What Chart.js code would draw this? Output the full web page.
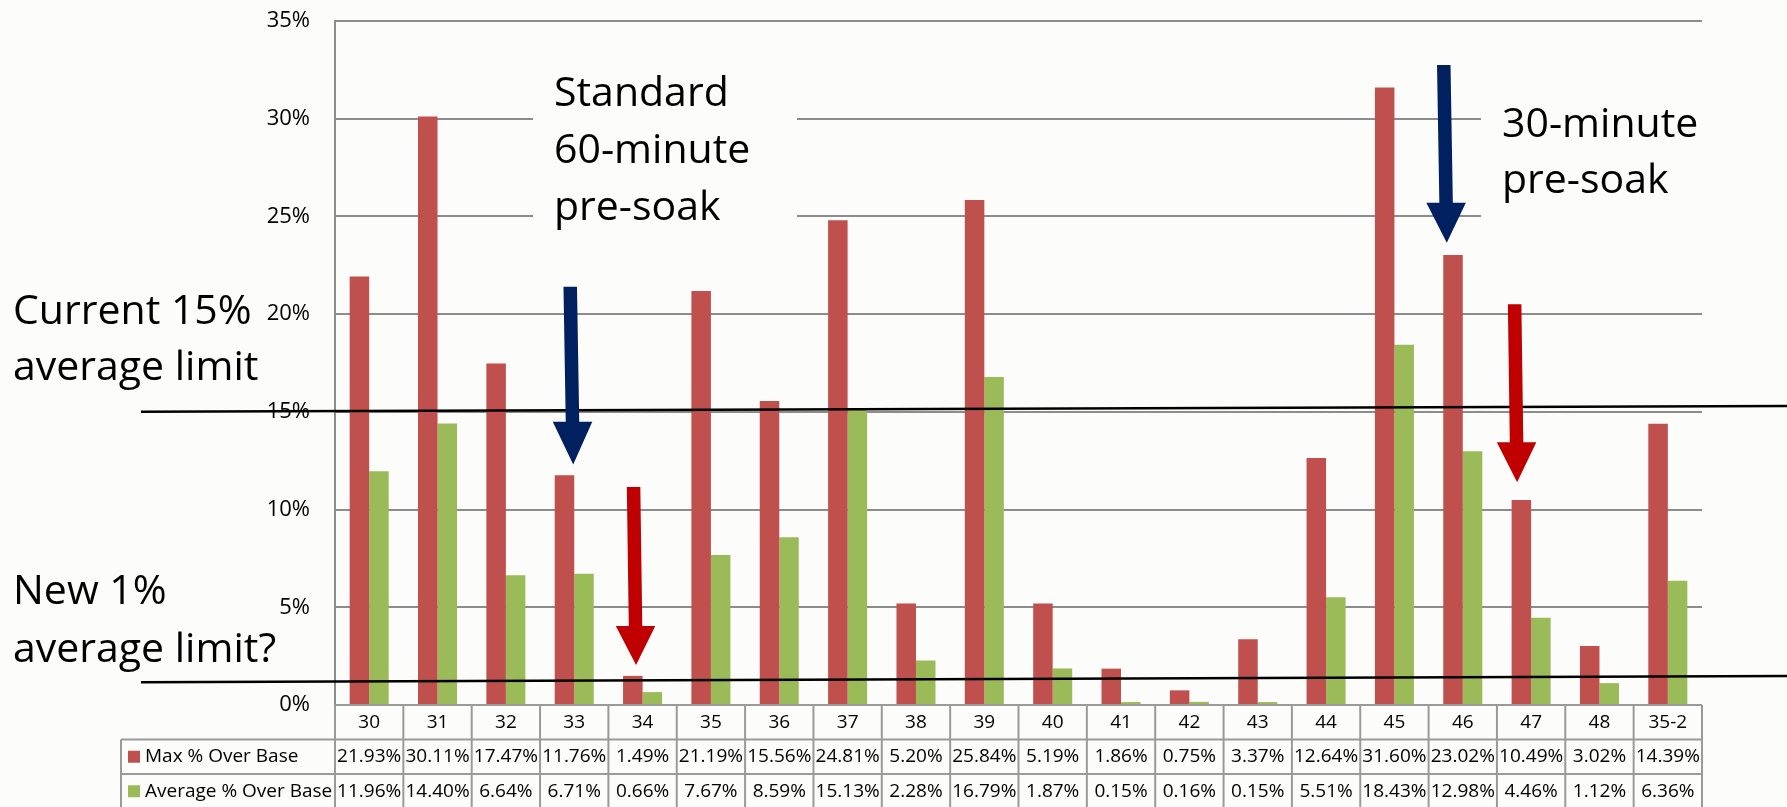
<!DOCTYPE html>
<html lang="en">
<head>
    <meta charset="UTF-8">
    <meta name="viewport" content="width=device-width, initial-scale=1.0">
    <script src="https://cdn.jsdelivr.net/npm/chart.js@4.4.1/dist/chart.umd.min.js"></script>
    <title>Pre-soak test results</title>
    <style>
        body { margin: 0; background: #fcfcfa; }
        canvas { display: block; }
    </style>
</head>
<body>
    <canvas id="chart" width="1787" height="807"></canvas>
    <script>
        const categories = ['30', '31', '32', '33', '34', '35', '36', '37', '38', '39',
                            '40', '41', '42', '43', '44', '45', '46', '47', '48', '35-2'];
        const maxOverBase = [21.93, 30.11, 17.47, 11.76, 1.49, 21.19, 15.56, 24.81, 5.20, 25.84,
                             5.19, 1.86, 0.75, 3.37, 12.64, 31.60, 23.02, 10.49, 3.02, 14.39];
        const avgOverBase = [11.96, 14.40, 6.64, 6.71, 0.66, 7.67, 8.59, 15.13, 2.28, 16.79,
                             1.87, 0.15, 0.16, 0.15, 5.51, 18.43, 12.98, 4.46, 1.12, 6.36];
        const seriesNames = ['Max % Over Base', 'Average % Over Base'];
        const seriesColors = ['#c0504d', '#9bbb59'];
        const yMin = 0, yMax = 35, yStep = 5;

        const PAGE = '#fcfcfa';
        const FONT = "'Open Sans', sans-serif";
        const GRID = '#8c8c8c';

        // arrows: category index, x offsets (top / tip), y values (top, head base, tip)
        const arrows = [
            { idx: 3,  dxTop: -4,    dxTip: -1,   top: 21.4,  base: 14.5,  tip: 12.3,  color: '#002060' },
            { idx: 4,  dxTop: -9,    dxTip: -6.5, top: 11.15, base: 4.04,  tip: 2.05,  color: '#c00000' },
            { idx: 16, dxTop: -19,   dxTip: -16,  top: 32.75, base: 25.7,  tip: 23.65, color: '#002060' },
            { idx: 17, dxTop: -16.5, dxTip: -14,  top: 20.5,  base: 13.45, tip: 11.4,  color: '#c00000' }
        ];

        function drawArrow(ctx, xTop, yTop, xTip, yTip, yBase, color) {
            const sw = 13.5, hw = 39.5;
            const xb = xTop + (xTip - xTop) * (yBase - yTop) / (yTip - yTop);
            ctx.fillStyle = color;
            ctx.beginPath();
            ctx.moveTo(xTop - sw / 2, yTop);
            ctx.lineTo(xTop + sw / 2, yTop);
            ctx.lineTo(xb + sw / 2, yBase);
            ctx.lineTo(xb + hw / 2, yBase);
            ctx.lineTo(xTip, yTip);
            ctx.lineTo(xb - hw / 2, yBase);
            ctx.lineTo(xb - sw / 2, yBase);
            ctx.closePath();
            ctx.fill();
        }

        function drawLines(ctx, lines, x, y0, lh) {
            lines.forEach((t, i) => ctx.fillText(t, x, y0 + i * lh));
        }

        const overlay = {
            id: 'overlay',
            beforeDatasetsDraw(chart) {
                // opaque text boxes hide the gridlines behind the notes
                const ctx = chart.ctx;
                ctx.save();
                ctx.fillStyle = PAGE;
                ctx.fillRect(533, 48, 264, 196);
                ctx.fillRect(1481, 48, 306, 190);
                ctx.restore();
            },
            afterDatasetsDraw(chart) {
                const ctx = chart.ctx;
                const xs = chart.scales.x, ys = chart.scales.y;
                const area = chart.chartArea;
                ctx.save();

                // limit lines
                ctx.strokeStyle = '#000';
                ctx.lineWidth = 2.5;
                [[15, 15.3], [1.17, 1.48]].forEach(([a, b]) => {
                    ctx.beginPath();
                    ctx.moveTo(141, ys.getPixelForValue(a));
                    ctx.lineTo(chart.width, ys.getPixelForValue(b));
                    ctx.stroke();
                });

                // notes
                ctx.fillStyle = '#000';
                ctx.font = '41px ' + FONT;
                ctx.textAlign = 'left';
                ctx.textBaseline = 'alphabetic';
                drawLines(ctx, ['Current 15%', 'average limit'], 13, 324, 56);
                drawLines(ctx, ['New 1%', 'average limit?'], 13, 604, 58);
                drawLines(ctx, ['Standard', '60-minute', 'pre-soak'], 554, 106, 57);
                drawLines(ctx, ['30-minute', 'pre-soak'], 1502, 137, 56);

                arrows.forEach(a => {
                    const cx = xs.getPixelForValue(a.idx);
                    drawArrow(ctx, cx + a.dxTop, ys.getPixelForValue(a.top),
                              cx + a.dxTip, ys.getPixelForValue(a.tip),
                              ys.getPixelForValue(a.base), a.color);
                });

                // data table
                const colW = (area.right - area.left) / categories.length;
                const rowH = 34.5;
                const top = area.bottom;
                const legendLeft = 121;
                ctx.strokeStyle = '#9a9a9a';
                ctx.lineWidth = 2;
                ctx.beginPath();
                ctx.moveTo(area.left, top);
                ctx.lineTo(area.right, top);
                for (let r = 1; r <= 3; r++) {
                    ctx.moveTo(legendLeft, top + r * rowH);
                    ctx.lineTo(area.right, top + r * rowH);
                }
                ctx.moveTo(legendLeft, top + rowH);
                ctx.lineTo(legendLeft, top + 3 * rowH);
                for (let i = 0; i <= categories.length; i++) {
                    const x = xs.getPixelForValue(i) - colW / 2;
                    ctx.moveTo(x, top);
                    ctx.lineTo(x, top + 3 * rowH);
                }
                ctx.stroke();

                ctx.font = '19px ' + FONT;
                ctx.textAlign = 'center';
                ctx.textBaseline = 'middle';
                ctx.fillStyle = '#000';
                const rows = [maxOverBase, avgOverBase];
                categories.forEach((c, i) => {
                    const x = xs.getPixelForValue(i);
                    ctx.fillText(c, x, top + rowH * 0.5);
                    rows.forEach((vals, r) => {
                        ctx.fillText(vals[i].toFixed(2) + '%', x, top + rowH * (r + 1.5));
                    });
                });
                ctx.textAlign = 'left';
                seriesNames.forEach((name, r) => {
                    const cy = top + rowH * (r + 1.5);
                    ctx.fillStyle = seriesColors[r];
                    ctx.fillRect(128, cy - 6, 12, 12);
                    ctx.fillStyle = '#000';
                    ctx.fillText(name, 145, cy);
                });

                ctx.restore();
            }
        };

        function createChart() {
            const ctx = document.getElementById('chart');
            new Chart(ctx, {
                type: 'bar',
                data: {
                    labels: categories,
                    datasets: [
                        { label: seriesNames[0], data: maxOverBase, backgroundColor: seriesColors[0] },
                        { label: seriesNames[1], data: avgOverBase, backgroundColor: seriesColors[1] }
                    ]
                },
                options: {
                    responsive: false,
                    animation: false,
                    devicePixelRatio: 1,
                    categoryPercentage: 0.571,
                    barPercentage: 1.0,
                    layout: { padding: { left: 0, top: 21, right: 85, bottom: 102 } },
                    plugins: {
                        legend: { display: false },
                        tooltip: { enabled: false }
                    },
                    scales: {
                        x: { display: false },
                        y: {
                            min: yMin,
                            max: yMax,
                            afterFit: s => { s.width = 335; },
                            ticks: {
                                stepSize: yStep,
                                padding: 0,
                                color: '#000',
                                font: { family: FONT, size: 22 },
                                callback: v => v + '%'
                            },
                            grid: {
                                color: GRID,
                                lineWidth: 2,
                                drawTicks: true,
                                tickLength: 25,
                                tickColor: 'rgba(0,0,0,0)'
                            },
                            border: { display: true, color: GRID, width: 2 }
                        }
                    }
                },
                plugins: [overlay]
            });
        }

        document.fonts.load('22px "Open Sans"').then(createChart, createChart);
    </script>
</body>
</html>
